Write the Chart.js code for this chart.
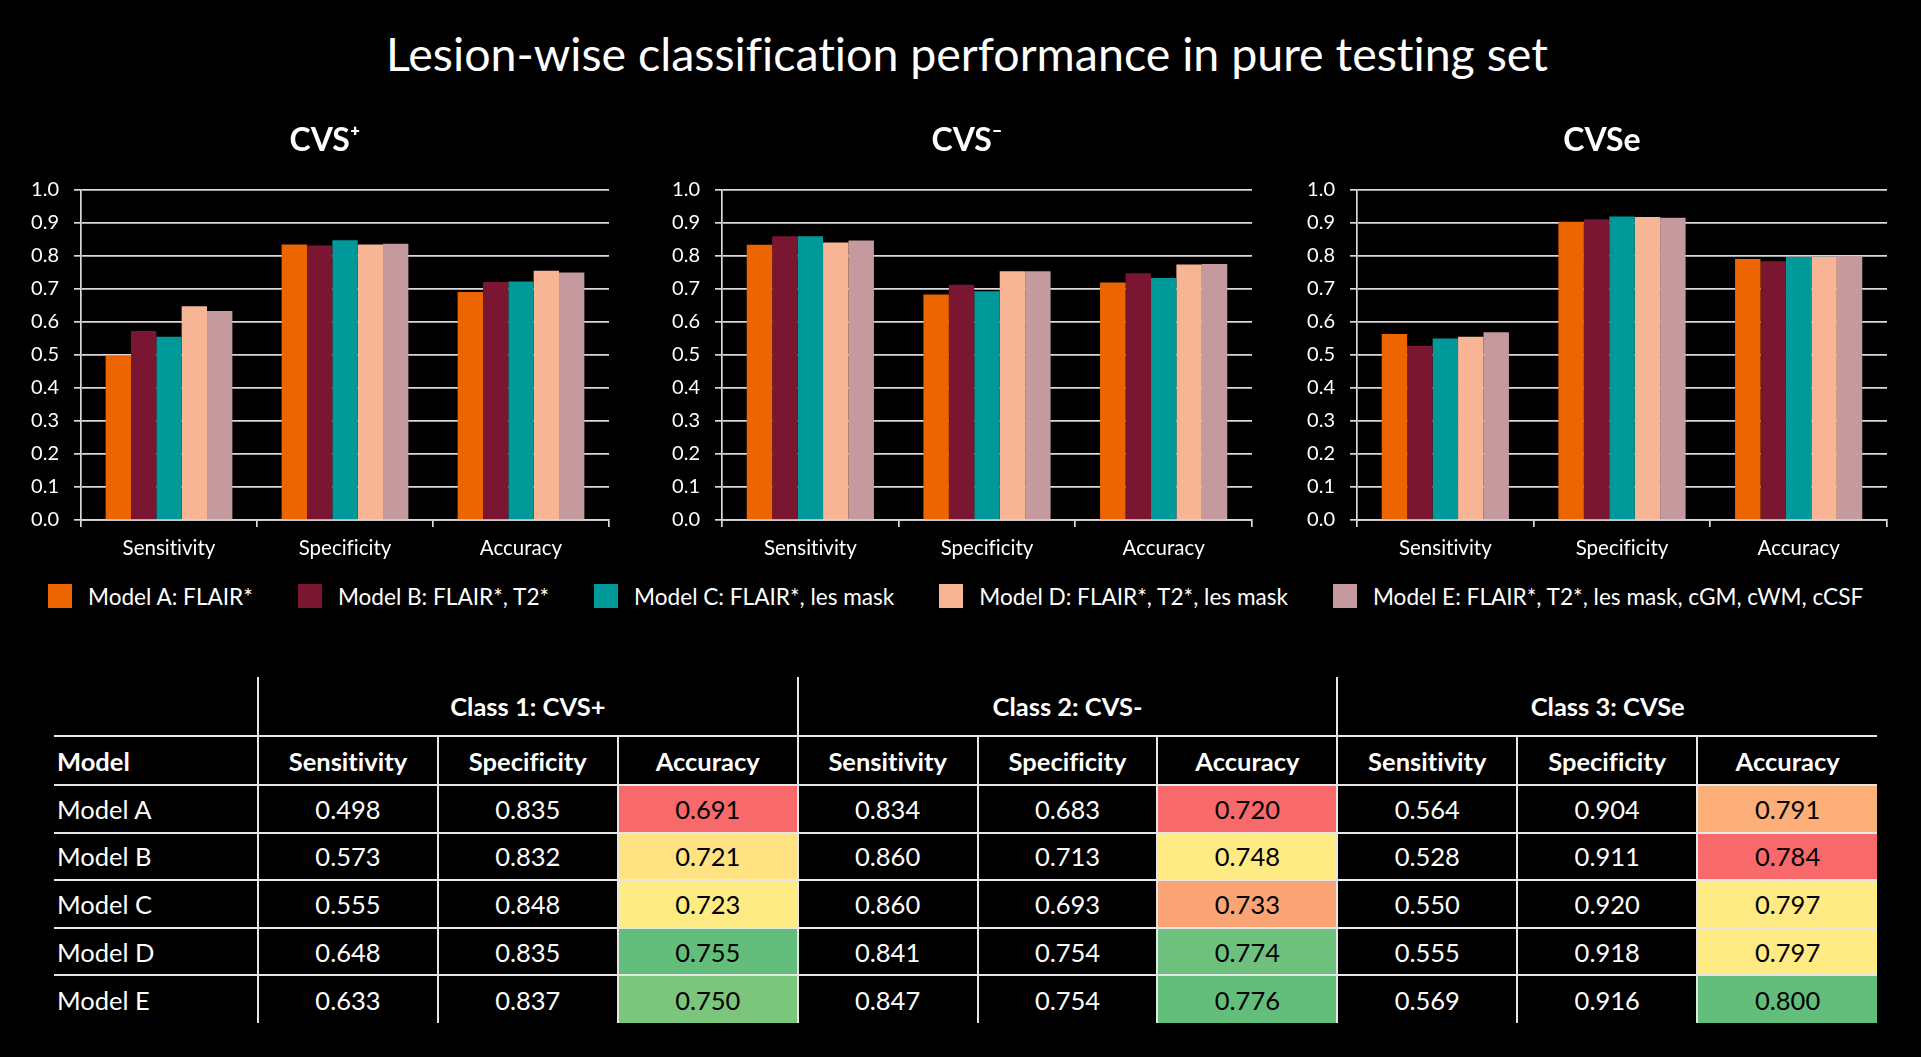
<!DOCTYPE html>
<html>
<head>
<meta charset="utf-8">
<script src="https://cdn.jsdelivr.net/npm/chart.js@4.4.1/dist/chart.umd.min.js"></script>
<style>
  html, body { margin: 0; padding: 0; background: #000; }
  body { width: 1921px; height: 1057px; position: relative; overflow: hidden; font-family: Lato, "Open Sans", sans-serif; color: #fff; font-variant-ligatures: none; }
  #title { position: absolute; left: 0; top: 26px; width: 1934px; text-align: center; font-size: 46.5px; line-height: 1.2; }
  .panel { position: absolute; top: 100px; width: 640px; height: 480px; }
  #legend { position: absolute; left: 48px; top: 582px; height: 28px; display: flex; align-items: center; font-size: 22.6px; }
  #legend .item { display: flex; align-items: center; margin-right: 45px; }
  #legend .box { width: 24px; height: 24px; margin-right: 16px; }
  #tbl { position: absolute; left: 54px; top: 677px; border-collapse: collapse; table-layout: fixed; width: 1823px; font-size: 25.5px; }
  #tbl td { padding: 0; text-align: center; vertical-align: middle; border-right: 2px solid #e6e6e6; border-bottom: 2px solid #e6e6e6; }
  #tbl td:last-child { border-right: none; }
  #tbl tr:last-child td { border-bottom: none; }
  #tbl td.name { text-align: left; padding-left: 3px; }
  #tbl .head td { font-weight: bold; }
</style>
</head>
<body>
<div id="title">Lesion-wise classification performance in pure testing set</div>
<div class="panel" style="left:0px"><canvas id="c1"></canvas></div>
<div class="panel" style="left:640px"><canvas id="c2"></canvas></div>
<div class="panel" style="left:1277px"><canvas id="c3"></canvas></div>
<div id="legend"></div>
<table id="tbl"></table>
<script>
// metrics shown on the x axis of each panel
const categories = ["Sensitivity", "Specificity", "Accuracy"];
const modelNames = ["Model A", "Model B", "Model C", "Model D", "Model E"];
const modelLabels = [
  "Model A: FLAIR*",
  "Model B: FLAIR*, T2*",
  "Model C: FLAIR*, les mask",
  "Model D: FLAIR*, T2*, les mask",
  "Model E: FLAIR*, T2*, les mask, cGM, cWM, cCSF"
];
const panelTitles = ["CVS\u207A", "CVS\u207B", "CVSe"];
const classTitles = ["Class 1: CVS+", "Class 2: CVS-", "Class 3: CVSe"];

// one row per model: sensitivity, specificity, accuracy
const cvsPlus = [
  [0.498, 0.835, 0.691],
  [0.573, 0.832, 0.721],
  [0.555, 0.848, 0.723],
  [0.648, 0.835, 0.755],
  [0.633, 0.837, 0.750]
];
const cvsMinus = [
  [0.834, 0.683, 0.720],
  [0.860, 0.713, 0.748],
  [0.860, 0.693, 0.733],
  [0.841, 0.754, 0.774],
  [0.847, 0.754, 0.776]
];
const cvsE = [
  [0.564, 0.904, 0.791],
  [0.528, 0.911, 0.784],
  [0.550, 0.920, 0.797],
  [0.555, 0.918, 0.797],
  [0.569, 0.916, 0.800]
];

const modelColors = ["#EC6500", "#7A1631", "#009999", "#F8B595", "#C49A9E"];
const gridColor = "#d9d9d9";

// panel title, centred a bit left of the plot like the original
const panelTitle = {
  id: "panelTitle",
  afterDraw(chart, args, opts) {
    const { ctx, chartArea } = chart;
    ctx.save();
    ctx.font = "bold 32px Lato";
    ctx.fillStyle = "#fff";
    ctx.textAlign = "center";
    ctx.textBaseline = "middle";
    ctx.fillText(opts.text, (chartArea.left + chartArea.right) / 2 - 20, 41);
    ctx.restore();
  }
};

function makeChart(id, title, values, axisWidth, padRight) {
  const datasets = modelLabels.map((lab, i) => ({
    label: lab,
    data: values[i],
    backgroundColor: modelColors[i],
    borderWidth: 0,
    categoryPercentage: 0.72,
    barPercentage: 1.0
  }));
  new Chart(document.getElementById(id), {
    type: "bar",
    data: { labels: categories, datasets: datasets },
    plugins: [panelTitle],
    options: {
      responsive: true,
      maintainAspectRatio: false,
      animation: false,
      layout: { padding: { left: 0, right: padRight, top: 90, bottom: 0 } },
      plugins: {
        legend: { display: false },
        tooltip: { enabled: false },
        title: { display: false },
        panelTitle: { text: title }
      },
      scales: {
        x: {
          afterFit: (s) => { s.height = 60; },
          grid: { display: true, drawOnChartArea: false, drawTicks: true, tickLength: 7, color: gridColor, lineWidth: 1.7, offset: true },
          border: { display: true, color: gridColor, width: 1.7 },
          ticks: { color: "#fff", font: { family: "Lato", size: 20.5 }, padding: 9 }
        },
        y: {
          min: 0,
          max: 1,
          afterFit: (s) => { s.width = axisWidth; },
          grid: { color: gridColor, lineWidth: 1.7, tickLength: 7 },
          border: { display: true, color: gridColor, width: 1.7 },
          ticks: {
            stepSize: 0.1,
            color: "#fff",
            font: { family: "Lato", size: 20 },
            padding: 15,
            callback: (v) => Number(v).toFixed(1)
          }
        }
      }
    }
  });
}

makeChart("c1", panelTitles[0], cvsPlus, 81, 31);
makeChart("c2", panelTitles[1], cvsMinus, 82, 28);
makeChart("c3", panelTitles[2], cvsE, 80, 30);

// shared legend
const legend = document.getElementById("legend");
modelLabels.forEach((lab, i) => {
  const item = document.createElement("div");
  item.className = "item";
  const box = document.createElement("div");
  box.className = "box";
  box.style.background = modelColors[i];
  const txt = document.createElement("span");
  txt.textContent = lab;
  item.append(box, txt);
  legend.append(item);
});

// excel style 3 colour scale (min red, median yellow, max green)
function mix(a, b, t) {
  return a.map((v, k) => Math.round(v + (b[k] - v) * t));
}
function scaleColor(v, col) {
  const s = col.slice().sort((a, b) => a - b);
  const lo = s[0], hi = s[s.length - 1], mid = s[Math.floor(s.length / 2)];
  const red = [248, 105, 107], yel = [255, 235, 132], grn = [99, 190, 123];
  let c;
  if (v <= mid) c = mix(red, yel, mid === lo ? 1 : (v - lo) / (mid - lo));
  else c = mix(yel, grn, hi === mid ? 1 : (v - mid) / (hi - mid));
  return "rgb(" + c.join(",") + ")";
}

const tbl = document.getElementById("tbl");
const classData = [cvsPlus, cvsMinus, cvsE];
let html = '<colgroup><col style="width:204px">';
for (let i = 0; i < 9; i++) html += '<col style="width:179.9px">';
html += "</colgroup>";
html += '<tr class="head" style="height:59px"><td></td>';
classTitles.forEach((t) => { html += '<td colspan="3">' + t + "</td>"; });
html += "</tr>";
html += '<tr class="head" style="height:49px"><td class="name">Model</td>';
classTitles.forEach(() => categories.forEach((c) => { html += "<td>" + c + "</td>"; }));
html += "</tr>";
modelNames.forEach((m, r) => {
  html += '<tr style="height:47.6px"><td class="name">' + m + "</td>";
  classData.forEach((d) => {
    d[r].forEach((v, k) => {
      if (k === 2) {
        const col = d.map((row) => row[2]);
        html += '<td style="background:' + scaleColor(v, col) + ';color:#000">' + v.toFixed(3) + "</td>";
      } else {
        html += "<td>" + v.toFixed(3) + "</td>";
      }
    });
  });
  html += "</tr>";
});
tbl.innerHTML = html;
</script>
</body>
</html>
